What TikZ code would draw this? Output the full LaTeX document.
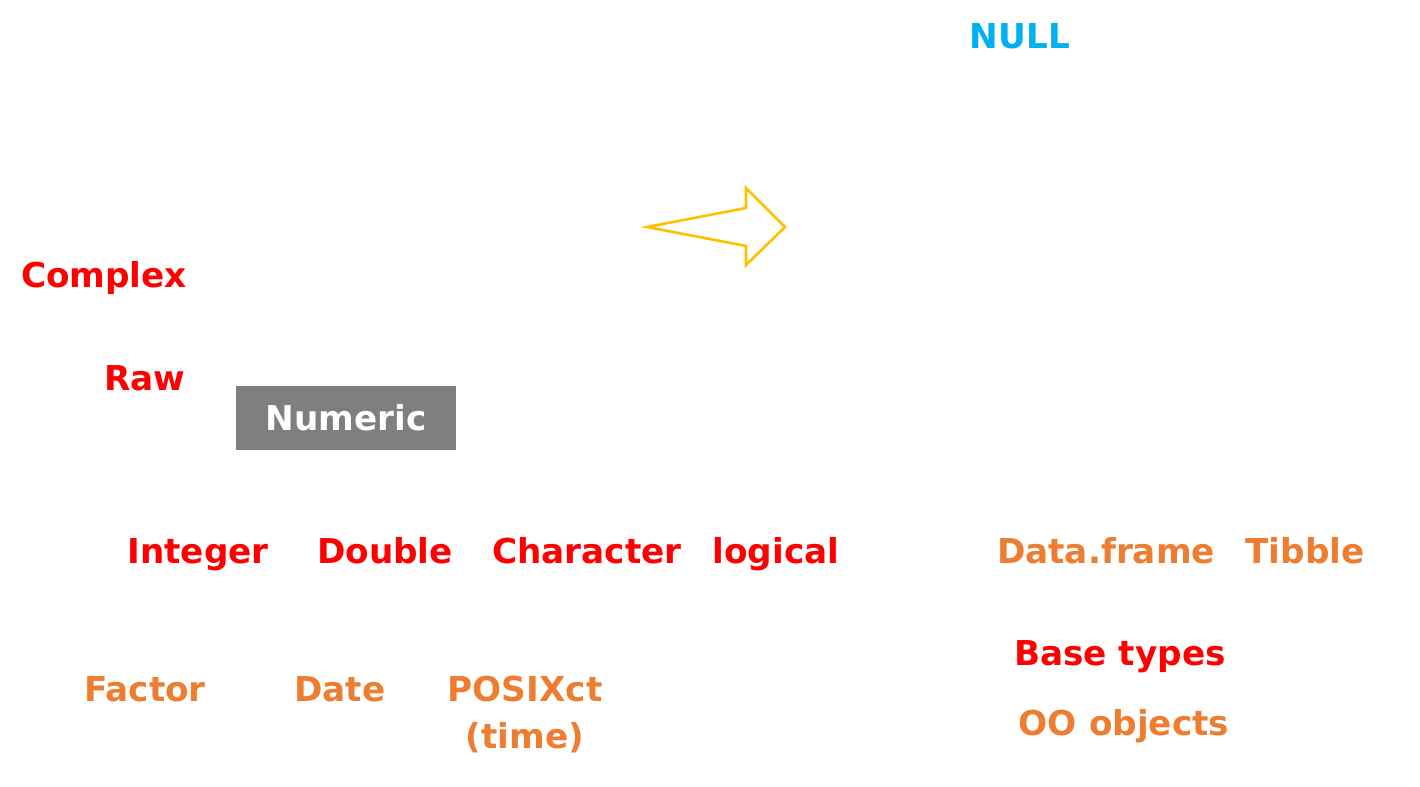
\documentclass[tikz,border=0pt]{standalone}
\usepackage{fontspec}
\setmainfont{DejaVu Sans}
\usepackage{tikz}
\usetikzlibrary{positioning}
\usepackage{xcolor}
\definecolor{typred}{RGB}{255,0,0}
\definecolor{typorange}{RGB}{237,125,49}
\definecolor{typblue}{RGB}{0,176,240}
\definecolor{typgray}{RGB}{127,127,127}
\definecolor{arrgold}{RGB}{255,192,0}
\newcommand{\typfont}{\fontsize{19.5}{24}\selectfont\bfseries}
\tikzset{
  typ/.style={anchor=base, inner sep=0pt, font=\typfont},
  typR/.style={typ, text=typred},
  typO/.style={typ, text=typorange},
  typB/.style={typ, text=typblue},
  numbox/.style={rectangle, fill=typgray, text=white, font=\typfont,
    minimum width=4.4cm, minimum height=1.28cm, inner sep=0pt},
  arrH/.style={draw=arrgold, line width=1.5pt, line join=miter},
}
\begin{document}
\begin{tikzpicture}[x=0.02cm, y=-0.02cm]
  \useasboundingbox (0,0) rectangle (1420,787);

  \node[typB] (null) at (1020,49) {NULL};

  \node[typR] (complex) at (104,288) {Complex};
  \node[typR] (raw)     at (145,390) {Raw};
  \node[numbox] (numeric) at (346,418) {Numeric};

  % base types
  \node[typR] (integer)   at (198,563) {Integer};
  \node[typR] (double)    at (385,563) {Double};
  \node[typR] (character) at (587,563) {Character};
  \node[typR] (logical)   at (776,563) {logical};

  % objects
  \node[typO] (dataframe) at (1106,563) {Data.frame};
  \node[typO] (tibble)    at (1305,563) {Tibble};
  \node[typO] (factor)    at (145,701) {Factor};
  \node[typO] (date)      at (340,701) {Date};
  \node[typO] (posixct)   at (525,701) {POSIXct};
  \node[typO] (time)      at (525,748) {(time)};

  % legend
  \node[typR] (basetypes) at (1120,665) {Base types};
  \node[typO] (oobjects)  at (1124,735) {OO objects};

  % block arrow
  \draw[arrH] (647,227) -- (746,208) -- (746,188) -- (785,227)
              -- (746,265) -- (746,246) -- cycle;
\end{tikzpicture}
\end{document}
